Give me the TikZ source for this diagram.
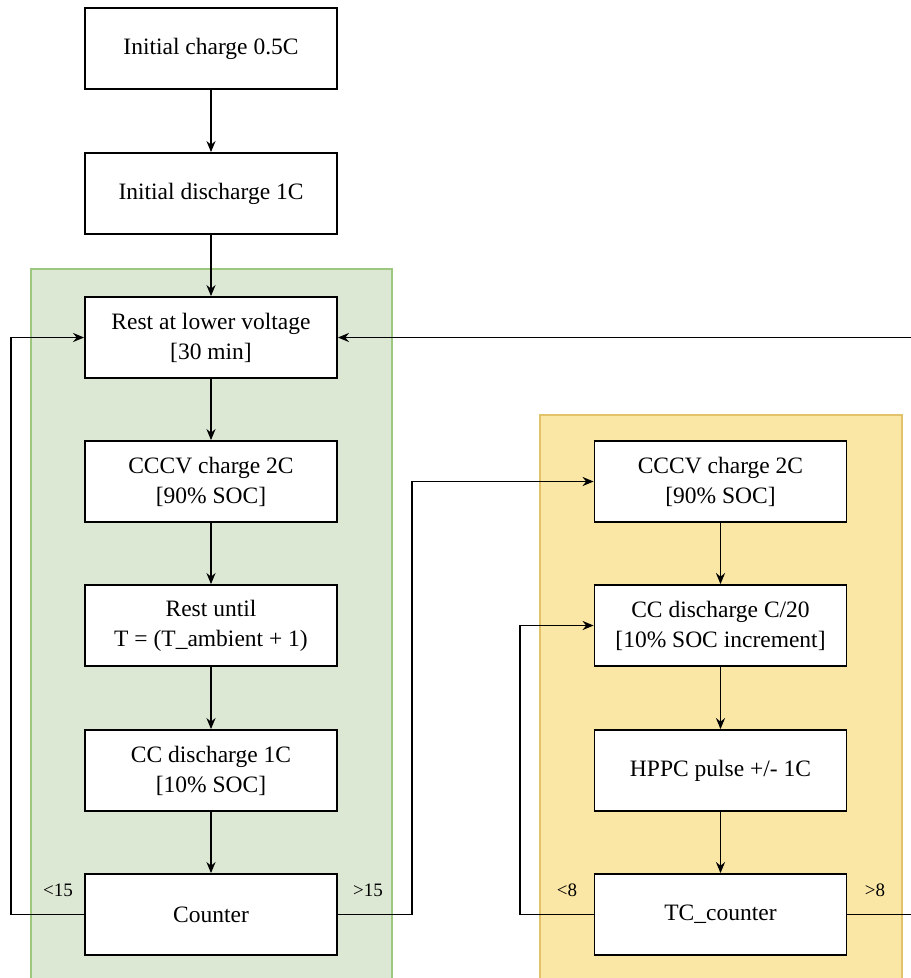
\documentclass[tikz,border=0pt]{standalone}
\usepackage{fontspec}
\setmainfont{Liberation Serif}
\usetikzlibrary{arrows.meta,positioning}
\definecolor{gfill}{HTML}{DCE8D3}
\definecolor{gline}{HTML}{9CC77F}
\definecolor{yfill}{HTML}{FAE6A5}
\definecolor{yline}{HTML}{E3C36A}
\begin{document}
\begin{tikzpicture}[x=1pt,y=-1pt,
  box/.style={draw=black,fill=white,line width=1.8pt,minimum width=252pt,minimum height=81pt,align=center,inner sep=0pt,font=\fontsize{23.5}{30}\selectfont},
  conn/.style={draw=black,line width=1.8pt},
  arr/.style={conn,-{Stealth[length=11pt,width=9pt]}},
  lab/.style={font=\fontsize{19}{21}\selectfont,inner sep=0pt}]
\clip (0,0) rectangle (911,978);
\fill[white] (0,0) rectangle (911,978);
% regions
\draw[fill=gfill,draw=gline,line width=1.6pt] (31,269) rectangle (392,990);
\draw[fill=yfill,draw=yline,line width=1.6pt] (540,415) rectangle (902,990);
% left column
\node[box] (ic) at (211,48.5) {Initial charge 0.5C};
\node[box] (id) at (211,193.5) {Initial discharge 1C};
\node[box] (rest) at (211,337.5) {Rest at lower voltage\\{}[30 min]};
\node[box] (cccv) at (211,481.5) {CCCV charge 2C\\{}[90\% SOC]};
\node[box] (ru) at (211,625.5) {Rest until\\T = (T\_ambient + 1)};
\node[box] (ccd) at (211,770.5) {CC discharge 1C\\{}[10\% SOC]};
\node[box] (cnt) at (211,914.5) {Counter};
% right column
\node[box] (cccv2) at (720.5,481.5) {CCCV charge 2C\\{}[90\% SOC]};
\node[box] (ccd2) at (720.5,625.5) {CC discharge C/20\\{}[10\% SOC increment]};
\node[box] (hppc) at (720.5,770.5) {HPPC pulse +/- 1C};
\node[box] (tc) at (720.5,914.5) {TC\_counter};
% coordinates
\coordinate (l1) at (11,914.5);
\coordinate (l2) at (11,337.5);
\coordinate (r1) at (412,914.5);
\coordinate (r2) at (412,481.5);
\coordinate (l3) at (520,914.5);
\coordinate (l4) at (520,625.5);
\coordinate (r3) at (930,914.5);
\coordinate (r4) at (930,337.5);
% connectors
\draw[arr] (ic) -- (id);
\draw[arr] (id) -- (rest);
\draw[arr] (rest) -- (cccv);
\draw[arr] (cccv) -- (ru);
\draw[arr] (ru) -- (ccd);
\draw[arr] (ccd) -- (cnt);
\draw[arr] (cnt.west) -- (l1) -- (l2) -- (rest.west);
\draw[arr] (cnt.east) -- (r1) -- (r2) -- (cccv2.west);
\draw[arr] (cccv2) -- (ccd2);
\draw[arr] (ccd2) -- (hppc);
\draw[arr] (hppc) -- (tc);
\draw[arr] (tc.west) -- (l3) -- (l4) -- (ccd2.west);
\draw[arr] (tc.east) -- (r3) -- (r4) -- (rest.east);
% labels
\node[lab] (lt15) at (58,890) {<15};
\node[lab] (gt15) at (368,890) {>15};
\node[lab] (lt8) at (567,890) {<8};
\node[lab] (gt8) at (875,890) {>8};
\end{tikzpicture}
\end{document}
